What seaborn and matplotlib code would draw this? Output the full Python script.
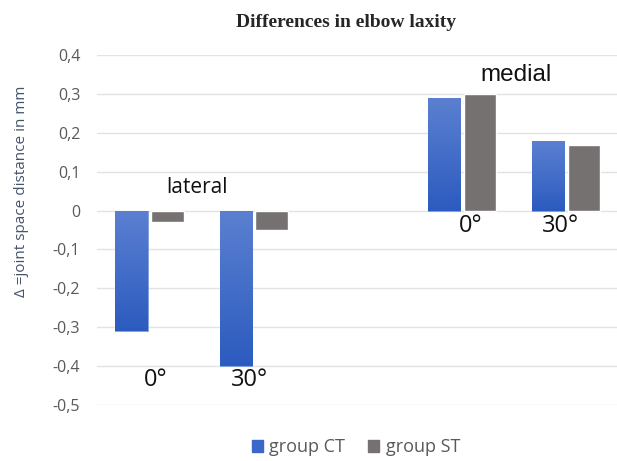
import numpy as np
import pandas as pd
import matplotlib
matplotlib.use("Agg")
import matplotlib.pyplot as plt
from matplotlib.colors import LinearSegmentedColormap
import seaborn as sns

# data
positions = ["lateral 0°", "lateral 30°", "medial 0°", "medial 30°"]
angle_labels = ["0°", "30°", "0°", "30°"]
ct_values = [-0.31, -0.40, 0.29, 0.18]
st_values = [-0.03, -0.05, 0.30, 0.17]
groups = ["group CT", "group ST"]
yticks = [0.4, 0.3, 0.2, 0.1, 0.0, -0.1, -0.2, -0.3, -0.4, -0.5]

df = pd.DataFrame({
    "position": positions * 2,
    "group": [groups[0]] * 4 + [groups[1]] * 4,
    "value": ct_values + st_values,
})

# empty slot between lateral and medial
order = ["lateral 0°", "lateral 30°", "gap", "medial 0°", "medial 30°"]

sns.set_style("white")
plt.rcParams["font.family"] = ["Open Sans", "DejaVu Sans"]

fig = plt.figure(figsize=(6.17, 4.61), dpi=100)
ax = fig.add_axes([0.1572, 0.1215, 0.8428, 0.759])

blue = "#3a67c8"
gray = "#767171"
sns.barplot(data=df, x="position", y="value", hue="group", order=order,
            hue_order=groups, palette=[blue, gray], width=0.69, gap=0.1,
            saturation=1, legend=False, ax=ax)

# gradient fill for the blue bars
cmap = LinearSegmentedColormap.from_list("ctgrad", ["#5b80d1", "#2c5bbf"])
grad = np.linspace(0, 1, 256).reshape(-1, 1)
for p in ax.patches[:len(ct_values)]:
    x0, y0 = p.get_x(), p.get_y()
    w, h = p.get_width(), p.get_height()
    top, bottom = max(y0, y0 + h), min(y0, y0 + h)
    im = ax.imshow(grad, cmap=cmap, aspect="auto", origin="upper",
                   extent=[x0, x0 + w, bottom, top], zorder=p.get_zorder() + 0.1)
    im.set_clip_path(p)
    p.set_edgecolor("#7fa0de")
    p.set_linewidth(0.6)

ax.set_xlim(-0.505, 4.49)
ax.set_ylim(-0.5, 0.4)
ax.set_yticks(yticks)
ax.set_yticklabels([("%.1f" % t).replace(".", ",") if t != 0 else "0" for t in yticks],
                   color="#595959", fontsize=11.5)
ax.set_xticks([])
ax.set_xlabel("")
ax.set_ylabel("Δ =joint space distance in mm", color="#44546a", fontsize=11)
ax.yaxis.set_label_coords(-0.13, 0.61)
ax.grid(axis="y", color="#e3e3e3", linewidth=1)
ax.set_axisbelow(True)
for s in ax.spines.values():
    s.set_visible(False)
ax.tick_params(axis="y", length=0, pad=12)

# angle labels and side labels
label_x = [0.06, 0.96, 3.08, 3.95]
label_y = [-0.437, -0.437, -0.04, -0.04]
for x, y, t in zip(label_x, label_y, angle_labels):
    ax.text(x, y, t, ha="center", va="center", fontsize=17, color="#111111")
ax.text(0.46, 0.06, "lateral", ha="center", va="center", fontsize=15,
        color="#111111")
ax.text(3.52, 0.35, "medial", ha="center", va="center", fontsize=17.5,
        color="#111111", family=["Liberation Sans", "DejaVu Sans"])

fig.text(0.56, 0.952, "Differences in elbow laxity", ha="center", va="center",
         fontsize=14, fontweight="bold", family=["Liberation Serif", "DejaVu Serif"])

handles = [plt.Rectangle((0, 0), 1, 1, color=blue),
           plt.Rectangle((0, 0), 1, 1, color=gray)]
leg = fig.legend(handles, groups, loc="center", bbox_to_anchor=(0.577, 0.03),
                 ncol=2, frameon=False, fontsize=13, handlelength=0.6,
                 handleheight=0.6, handletextpad=0.35, columnspacing=1.3)
for t in leg.get_texts():
    t.set_color("#595959")

fig.savefig("out.png", dpi=100)
